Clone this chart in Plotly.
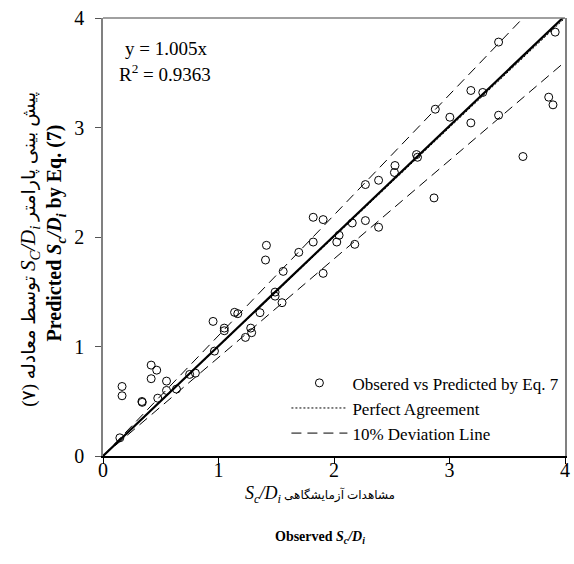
import plotly.graph_objects as go

observed = [0.146, 0.165, 0.165, 0.337, 0.340, 0.417, 0.465, 0.417, 0.55, 0.55,
            0.474, 0.636, 0.75, 0.80, 0.965, 0.953, 1.05, 1.05, 1.139, 1.167,
            1.233, 1.279, 1.287, 1.359, 1.415, 1.407, 1.49, 1.49, 1.55, 1.56,
            1.695, 1.82, 1.82, 1.906, 1.906, 2.024, 2.044, 2.158, 2.18, 2.272,
            2.386, 2.272, 2.386, 2.528, 2.523, 2.714, 2.723, 2.866, 2.877, 3.003,
            3.185, 3.185, 3.288, 3.425, 3.425, 3.636, 3.859, 3.896, 3.915]
predicted = [0.166, 0.635, 0.55, 0.498, 0.490, 0.83, 0.784, 0.706, 0.684, 0.599,
             0.528, 0.611, 0.745, 0.757, 0.958, 1.229, 1.168, 1.144, 1.312, 1.30,
             1.083, 1.168, 1.126, 1.309, 1.924, 1.79, 1.497, 1.46, 1.40, 1.686,
             1.86, 2.18, 1.954, 2.159, 1.668, 1.954, 2.016, 2.128, 1.933, 2.15,
             2.089, 2.479, 2.518, 2.653, 2.589, 2.753, 2.728, 2.357, 3.167, 3.094,
             3.338, 3.042, 3.32, 3.78, 3.112, 2.735, 3.277, 3.207, 3.871]

line_x = [0, 4]
fit_slope = 1.005
r_squared = 0.9363
upper_factor = 1.1
lower_factor = 0.9
tick_vals = [0, 1, 2, 3, 4]

FONT = "Liberation Serif, Times New Roman, DejaVu Serif, DejaVu Sans"

fig = go.Figure()

fig.add_trace(go.Scatter(
    x=line_x, y=[fit_slope * v for v in line_x], mode="lines",
    line=dict(color="black", width=2.2), showlegend=False, hoverinfo="skip"))

fig.add_trace(go.Scatter(
    x=observed, y=predicted, mode="markers", name="Obsered vs Predicted by Eq. 7",
    marker=dict(symbol="circle-open", size=8, color="black", line=dict(width=1, color="black")),
    legendgroup="a", legendrank=1))

fig.add_trace(go.Scatter(
    x=line_x, y=line_x, mode="lines", name="Perfect Agreement",
    line=dict(color="black", width=1, dash="2px,2px"),
    legendgroup="b", legendrank=2))

fig.add_trace(go.Scatter(
    x=line_x, y=[upper_factor * v for v in line_x], mode="lines", name="10% Deviation Line",
    line=dict(color="black", width=1, dash="10px,6px"),
    legendgroup="c", legendrank=3))

fig.add_trace(go.Scatter(
    x=line_x, y=[lower_factor * v for v in line_x], mode="lines", name="10% Deviation Line",
    line=dict(color="black", width=1, dash="10px,6px"),
    legendgroup="c", showlegend=False))

fig.update_layout(
    width=574, height=564,
    margin=dict(l=103, r=4, t=18, b=108),
    paper_bgcolor="white", plot_bgcolor="white",
    font=dict(family=FONT, color="black", size=15),
    showlegend=True,
    legend=dict(x=0.397, y=0.207, xanchor="left", yanchor="top",
                bgcolor="rgba(0,0,0,0)", borderwidth=0,
                font=dict(family=FONT, size=17, color="black"),
                itemwidth=56, tracegroupgap=7, traceorder="normal"),
    xaxis=dict(range=[0, 4], tickvals=tick_vals, showgrid=False, zeroline=False,
               showline=True, linecolor="black", linewidth=1.5, mirror=False,
               ticks="outside", ticklen=6, tickcolor="black",
               ticklabelstandoff=-11, ticklabeloverflow="allow",
               tickfont=dict(family=FONT, size=20, color="black")),
    yaxis=dict(range=[0, 4], tickvals=tick_vals, showgrid=False, zeroline=False,
               showline=True, linecolor="#808080", linewidth=1.5, mirror=True,
               ticks="outside", ticklen=6, tickcolor="#555555",
               ticklabelstandoff=7,
               tickfont=dict(family=FONT, size=20, color="black")),
    shapes=[dict(type="line", xref="paper", yref="paper", x0=0, x1=1, y0=1, y1=1,
                 line=dict(color="#808080", width=1.5))],
)

fig.add_annotation(xref="paper", yref="paper", x=0.136, y=0.93,
                   xanchor="center", yanchor="middle",
                   text=f"y = {fit_slope}x", showarrow=False,
                   font=dict(family=FONT, size=19, color="black"))
fig.add_annotation(xref="paper", yref="paper", x=0.134, y=0.874,
                   xanchor="center", yanchor="middle",
                   text=f"R<sup>2</sup> = {r_squared}", showarrow=False,
                   font=dict(family=FONT, size=19, color="black"))

RLE, PDF = "\u202B", "\u202C"
fig.add_annotation(xref="paper", yref="paper", x=-0.16, y=0.471, textangle=-90,
                   xanchor="center", yanchor="middle",
                   text=RLE + "پیش بینی پارامتر <i><span style='font-size:21px'>S<sub>C</sub>/D<sub>i</sub></span></i> توسط معادله (۷)" + PDF,
                   showarrow=False, font=dict(family=FONT, size=19, color="black"))
fig.add_annotation(xref="paper", yref="paper", x=-0.103, y=0.509, textangle=-90,
                   xanchor="center", yanchor="middle",
                   text="<b>Predicted <i>S<sub>c</sub>/D<sub>i</sub></i> by Eq. (7)</b>",
                   showarrow=False, font=dict(family=FONT, size=20, color="black"))
fig.add_annotation(xref="paper", yref="paper", x=0.469, y=-0.0868,
                   xanchor="center", yanchor="middle",
                   text=RLE + "مشاهدات آزمایشگاهی <i><span style='font-size:18px'>S<sub>c</sub>/D<sub>i</sub></span></i>" + PDF,
                   showarrow=False, font=dict(family=FONT, size=12, color="black"))
fig.add_annotation(xref="paper", yref="paper", x=0.47, y=-0.186,
                   xanchor="center", yanchor="middle",
                   text="<b>Observed <i>S<sub>c</sub>/D<sub>i</sub></i></b>",
                   showarrow=False, font=dict(family=FONT, size=14, color="black"))

fig.write_html("out.html", config={"displayModeBar": False},
               post_script="document.body.style.margin='0';document.body.style.padding='0';")
